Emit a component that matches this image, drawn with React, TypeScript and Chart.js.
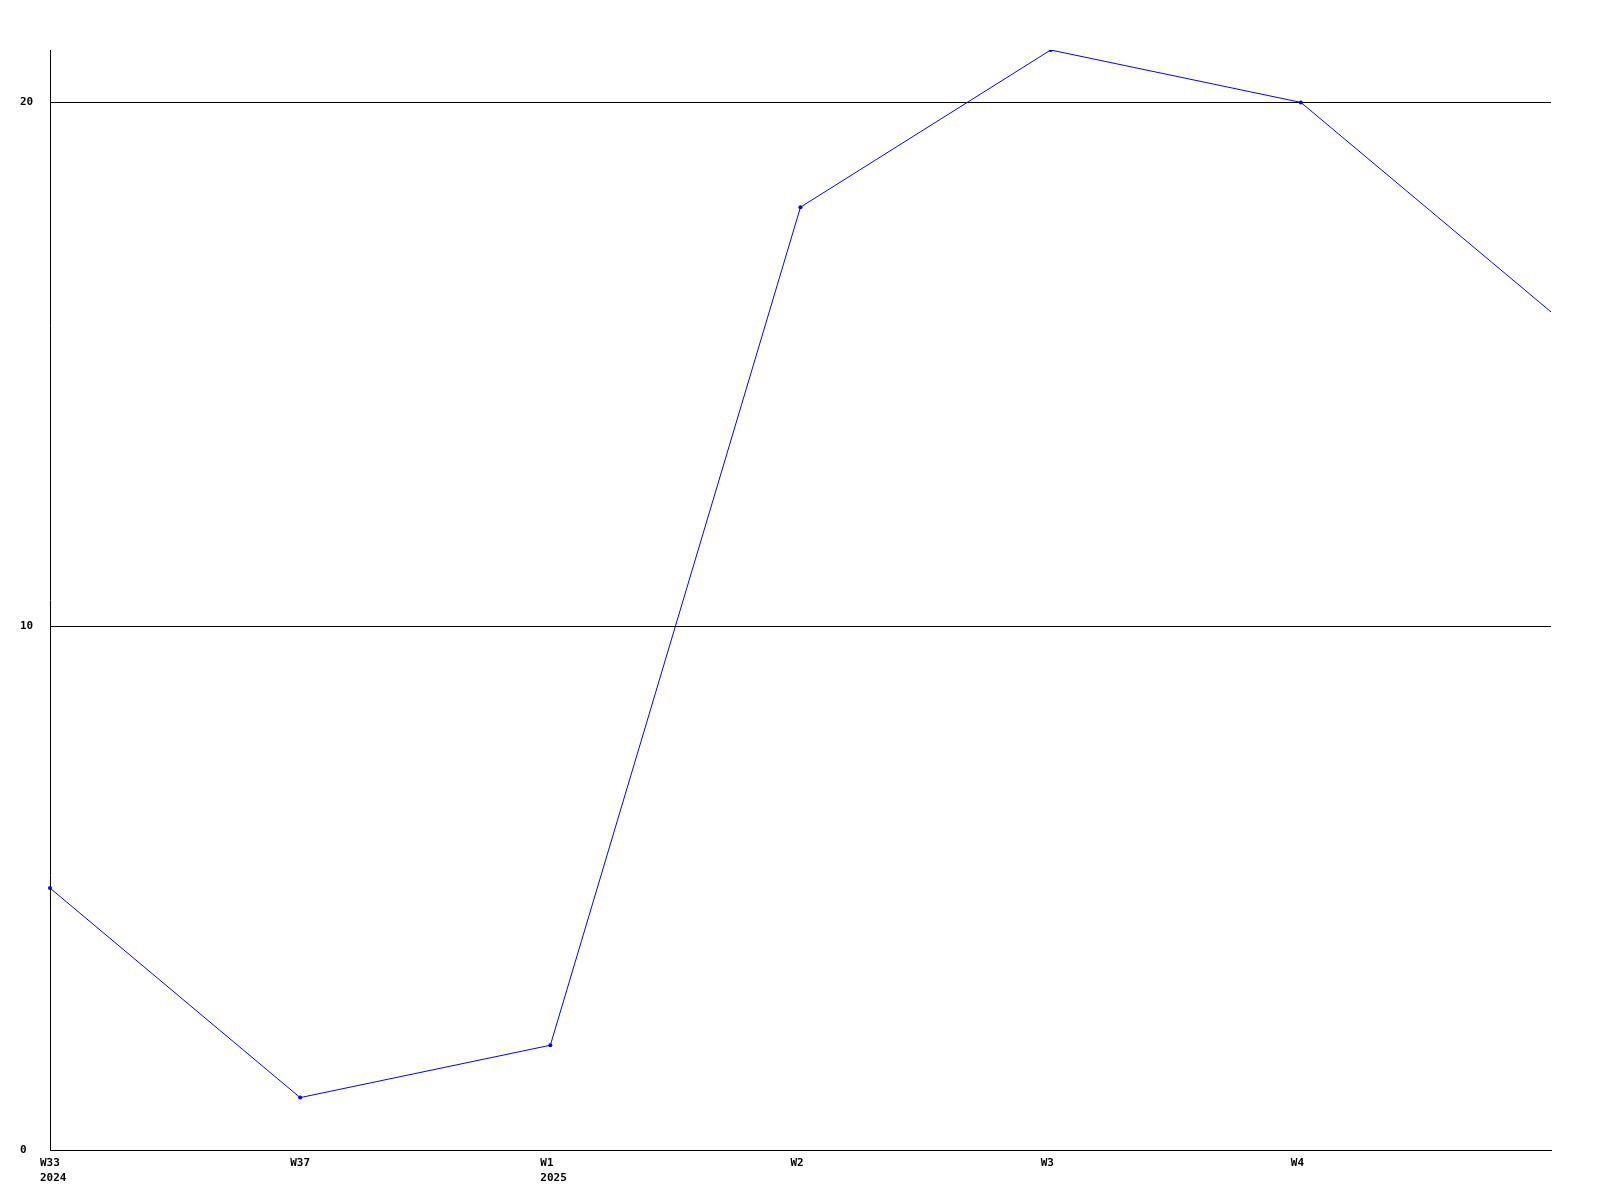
import React, { useEffect, useRef } from "react";
import { Chart, registerables } from "chart.js";

Chart.register(...registerables);

const categories: (string | string[])[] = [["W33", "2024"], "W37", ["W1", "2025"], "W2", "W3", "W4", ""];
const seriesValues: number[] = [5, 1, 2, 18, 21, 20, 16];
const yTickValues: number[] = [0, 10, 20];

export default function App() {
  const ref = useRef<HTMLCanvasElement | null>(null);
  useEffect(() => {
    document.body.style.margin = "0";
    const ctx = ref.current!;
    const font = { family: "'DejaVu Sans Mono', monospace", size: 11, weight: "bold" as const, lineHeight: 1.35 };
    const chart = new Chart(ctx, {
      type: "line",
      data: {
        labels: categories,
        datasets: [
          {
            data: seriesValues,
            borderColor: "#0000ff",
            backgroundColor: "#0000ff",
            borderWidth: 1,
            pointRadius: seriesValues.map((_, i) => (i === seriesValues.length - 1 ? 0 : 2)),
            pointBorderWidth: 0,
            pointBackgroundColor: "#0000ff",
            tension: 0,
            fill: false,
          },
        ],
      },
      options: {
        responsive: false,
        animation: false,
        layout: { padding: { left: 20, top: 50, right: 49, bottom: 0 } },
        plugins: { legend: { display: false }, tooltip: { enabled: false }, title: { display: false } },
        scales: {
          x: {
            grid: { display: false, drawTicks: false },
            border: { display: true, color: "#000000", width: 1 },
            offset: false,
            ticks: {
              autoSkip: false,
              maxRotation: 0,
              minRotation: 0,
              align: "start",
              labelOffset: -10,
              padding: 6,
              color: "#000000",
              font,
            },
            afterFit: (scale: any) => {
              scale.height = 50;
            },
          },
          y: {
            min: 0,
            max: 21,
            grid: { color: "#000000", lineWidth: 1, drawTicks: false },
            border: { display: true, color: "#000000", width: 1 },
            ticks: {
              crossAlign: "far",
              padding: 0,
              color: "#000000",
              font,
            },
            afterBuildTicks: (scale: any) => {
              scale.ticks = yTickValues.map((v) => ({ value: v }));
            },
            afterFit: (scale: any) => {
              scale.width = 30;
            },
          },
        },
      },
    });
    return () => chart.destroy();
  }, []);
  return <canvas ref={ref} width={1600} height={1200} style={{ display: "block" }} />;
}
